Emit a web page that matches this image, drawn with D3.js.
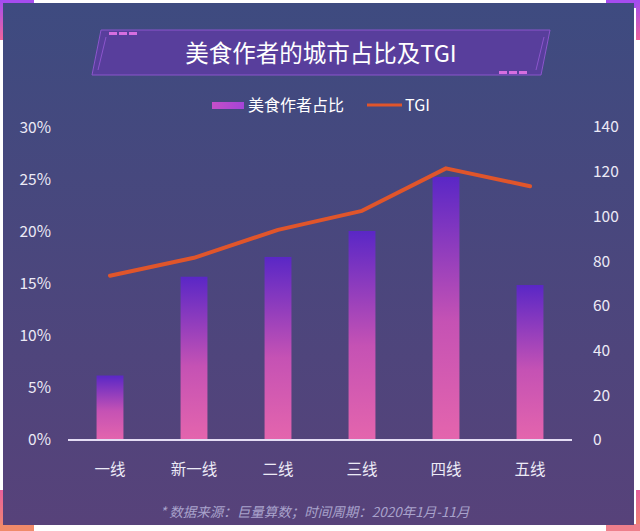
<!DOCTYPE html>
<html>
<head>
<meta charset="utf-8">
<script src="https://cdn.jsdelivr.net/npm/d3@7"></script>
<style>
  html, body { margin: 0; padding: 0; background: #fff; }
  svg { display: block; font-family: "Noto Sans CJK SC", "Noto Sans", sans-serif; }
</style>
</head>
<body>
<div id="chart"></div>
<script>
const categories = ["一线", "新一线", "二线", "三线", "四线", "五线"];
const shareValues = [0.062, 0.157, 0.176, 0.201, 0.253, 0.149];
const tgiValues = [73.5, 81.5, 94, 102.5, 121.5, 113.5];
const leftTicks = [0, 0.05, 0.10, 0.15, 0.20, 0.25, 0.30];
const rightTicks = [0, 20, 40, 60, 80, 100, 120, 140];

const width = 640, height = 531;

const svg = d3.select("#chart")
  .append("svg")
  .attr("width", width)
  .attr("height", height);

const defs = svg.append("defs");

// panel background
let bg = defs.append("linearGradient").attr("id", "bg")
  .attr("x1", 0).attr("y1", 0).attr("x2", 0).attr("y2", 1);
bg.append("stop").attr("offset", "0%").attr("stop-color", "#3e4b80");
bg.append("stop").attr("offset", "100%").attr("stop-color", "#57427a");

// corner accents
let corner = defs.append("linearGradient").attr("id", "corner")
  .attr("x1", 0).attr("y1", 0).attr("x2", 0).attr("y2", 1);
corner.append("stop").attr("offset", "0%").attr("stop-color", "#a24cf2");
corner.append("stop").attr("offset", "100%").attr("stop-color", "#f0649a");

let cornerB = defs.append("linearGradient").attr("id", "cornerB")
  .attr("x1", 0).attr("y1", 0).attr("x2", 0).attr("y2", 1);
cornerB.append("stop").attr("offset", "0%").attr("stop-color", "#e9609c");
cornerB.append("stop").attr("offset", "100%").attr("stop-color", "#f08a6a");

// bar gradient
let barGrad = defs.append("linearGradient").attr("id", "barGrad")
  .attr("x1", 0).attr("y1", 0).attr("x2", 0).attr("y2", 1);
barGrad.append("stop").attr("offset", "0%").attr("stop-color", "#5a27c6");
barGrad.append("stop").attr("offset", "55%").attr("stop-color", "#c552b4");
barGrad.append("stop").attr("offset", "100%").attr("stop-color", "#e465ad");

let legGrad = defs.append("linearGradient").attr("id", "legGrad")
  .attr("x1", 0).attr("y1", 0).attr("x2", 1).attr("y2", 0);
legGrad.append("stop").attr("offset", "0%").attr("stop-color", "#c54fc8");
legGrad.append("stop").attr("offset", "100%").attr("stop-color", "#a444d8");

// corners (behind the panel)
svg.append("rect").attr("x", 0).attr("y", 0).attr("width", 34).attr("height", 8).attr("fill", "#a64cf0");
svg.append("rect").attr("x", 0).attr("y", 0).attr("width", 4).attr("height", 40).attr("fill", "url(#corner)");
svg.append("rect").attr("x", 606).attr("y", 0).attr("width", 34).attr("height", 8).attr("fill", "#a64cf0");
svg.append("rect").attr("x", 636).attr("y", 0).attr("width", 4).attr("height", 40).attr("fill", "url(#corner)");
svg.append("rect").attr("x", 0).attr("y", 490).attr("width", 4).attr("height", 41).attr("fill", "url(#cornerB)");
svg.append("rect").attr("x", 0).attr("y", 524).attr("width", 34).attr("height", 7).attr("fill", "#f08a6a");
svg.append("rect").attr("x", 636).attr("y", 490).attr("width", 4).attr("height", 41).attr("fill", "url(#cornerB)");
svg.append("rect").attr("x", 606).attr("y", 524).attr("width", 34).attr("height", 7).attr("fill", "#ee7f8c");

// panel
svg.append("rect")
  .attr("x", 3).attr("y", 3)
  .attr("width", 631).attr("height", 522)
  .attr("fill", "url(#bg)");

// title banner
let banner = svg.append("g");
banner.append("path")
  .attr("d", "M101,30 L550,30 L541,75 L92,75 Z")
  .attr("fill", "#583e9c")
  .attr("stroke", "#8b55cc")
  .attr("stroke-width", 1);
banner.append("path")
  .attr("d", "M106,37 L98,70 M544,37 L536,70")
  .attr("stroke", "#8b55cc")
  .attr("fill", "none");
[0, 10, 20].forEach(dx => {
  banner.append("rect").attr("x", 109 + dx).attr("y", 32).attr("width", 8).attr("height", 3).attr("fill", "#d66ee0");
  banner.append("rect").attr("x", 499 + dx).attr("y", 71).attr("width", 8).attr("height", 3).attr("fill", "#d66ee0");
});
banner.append("text")
  .attr("x", 321).attr("y", 62)
  .attr("text-anchor", "middle")
  .attr("fill", "#ffffff")
  .style("font-size", "23.5px")
  .text("美食作者的城市占比及TGI");

// legend
let legend = svg.append("g");
legend.append("rect").attr("x", 212).attr("y", 102).attr("width", 32).attr("height", 7).attr("fill", "url(#legGrad)");
legend.append("text").attr("x", 248).attr("y", 111).attr("fill", "#ffffff").style("font-size", "16px").text("美食作者占比");
legend.append("line").attr("x1", 367).attr("x2", 402).attr("y1", 105).attr("y2", 105)
  .attr("stroke", "#e0552b").attr("stroke-width", 3);
legend.append("text").attr("x", 405).attr("y", 111).attr("fill", "#ffffff").style("font-size", "16px").text("TGI");

// scales
const x = d3.scaleBand().domain(categories).range([68, 572]).paddingInner(0.68).paddingOuter(0.34);
const yL = d3.scaleLinear().domain([0, 0.30]).range([440, 128]);
const yR = d3.scaleLinear().domain([0, 140]).range([440, 127]);

// axes
const leftAxis = svg.append("g")
  .attr("transform", "translate(51,0)")
  .call(d3.axisLeft(yL).tickValues(leftTicks).tickFormat(d3.format(".0%")).tickSize(0).tickPadding(0));
const rightAxis = svg.append("g")
  .attr("transform", "translate(593,0)")
  .call(d3.axisRight(yR).tickValues(rightTicks).tickSize(0).tickPadding(0));
const bottomAxis = svg.append("g")
  .attr("transform", "translate(0,440)")
  .call(d3.axisBottom(x).tickSize(0).tickPadding(24));

[leftAxis, rightAxis, bottomAxis].forEach(a => {
  a.select(".domain").remove();
  a.selectAll("text")
    .attr("fill", "#eceaf6")
    .style("font-family", "'Noto Sans CJK SC', 'Noto Sans', sans-serif")
    .style("font-size", "15.5px");
});

// bars
svg.append("g")
  .selectAll("rect")
  .data(shareValues)
  .join("rect")
  .attr("x", (d, i) => x(categories[i]))
  .attr("y", d => yL(d))
  .attr("width", x.bandwidth())
  .attr("height", d => yL(0) - yL(d))
  .attr("fill", "url(#barGrad)");

// baseline
svg.append("line")
  .attr("x1", 68).attr("x2", 572)
  .attr("y1", 440).attr("y2", 440)
  .attr("stroke", "#e4dcf4").attr("stroke-width", 2);

// TGI line
let line = d3.line()
  .x((d, i) => x(categories[i]) + x.bandwidth() / 2)
  .y(d => yR(d));

svg.append("path")
  .datum(tgiValues)
  .attr("fill", "none")
  .attr("stroke", "#e0552b")
  .attr("stroke-width", 4)
  .attr("stroke-linejoin", "round")
  .attr("stroke-linecap", "round")
  .attr("d", line);

// source note
svg.append("text")
  .attr("x", 160).attr("y", 517)
  .attr("fill", "#a9a3cc")
  .style("font-size", "13.5px")
  .style("font-style", "italic")
  .text("* 数据来源：巨量算数；时间周期：2020年1月-11月");
</script>
</body>
</html>
